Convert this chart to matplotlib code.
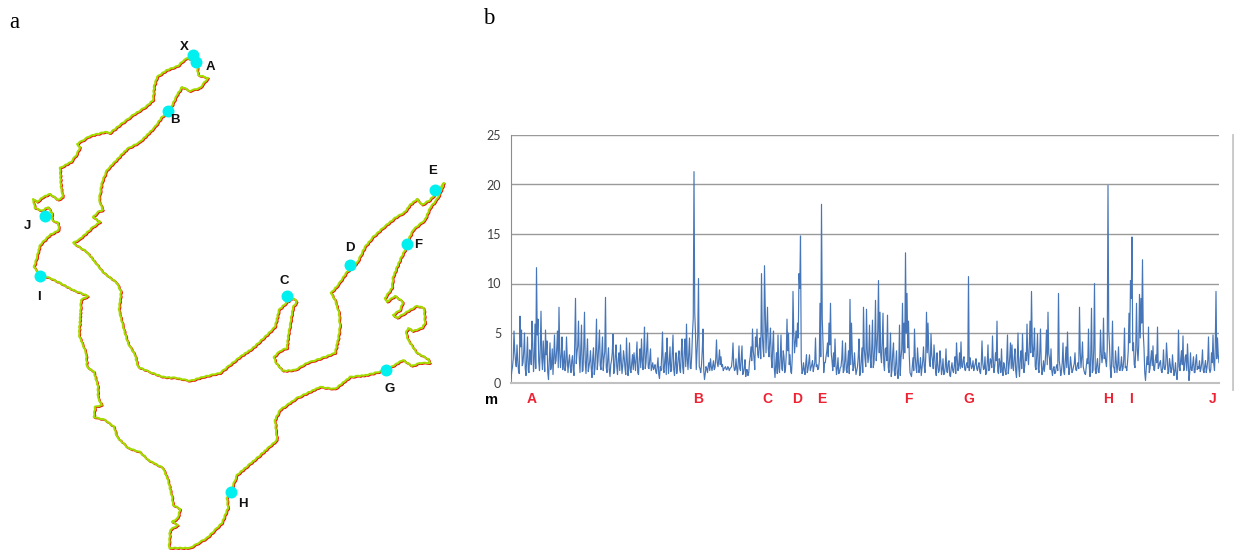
#!/usr/bin/env python3
# -*- coding: utf-8 -*-
"""
Lake shoreline with the waypoints A to J (a) and the height profile
recorded along the shoreline (b).
"""

from numpy import arange, empty
from matplotlib import pyplot as plt
from matplotlib.transforms import ScaledTranslation


# shoreline (image coordinates)
shore_x = [188, 184, 178, 167, 157, 154, 153, 147, 133, 120, 110, 105, 90, 82, 77, 80, 77, 71, 60,
           61, 63, 58, 50, 43, 37, 33, 35, 42, 48, 52, 52, 58, 59, 50, 40, 37, 34, 40,
           50, 60, 73, 88, 81, 80, 79, 83, 86, 87, 94, 98, 98, 102, 95, 94, 105, 114, 117, 128,
           140, 148, 163, 168, 172, 173, 180, 178, 172, 178, 170, 169, 190, 207, 222, 228, 227,
           232, 237, 257, 277, 275, 280, 297, 320, 335, 350, 367,
           386, 403, 412, 420, 430, 428, 417, 408, 406, 408, 413, 422, 425, 424, 417, 410,
           397, 393, 400, 403, 395, 387, 385, 392, 393, 400, 405, 407, 413, 425, 430, 438, 444,
           437, 430, 422, 417, 410, 405, 395, 383, 373, 365, 357, 347, 338, 331, 335, 339, 340,
           338, 335, 322, 307, 295, 283, 276, 274, 280, 287, 288, 291, 293, 297, 293, 287, 279,
           275, 267, 253, 240, 230, 220, 203, 190, 177, 163, 150, 138, 135, 128, 124, 119, 121,
           117, 103, 87, 73, 80, 93, 100, 93, 98, 103, 99, 102, 107, 127, 140, 155, 162, 170, 177,
           182, 190, 200, 208, 198, 197, 188]
shore_y = [58, 60, 66, 70, 77, 87, 100, 106, 115, 125, 133, 132, 136, 141, 144, 147, 154, 162, 168,
           187, 197, 200, 194, 197, 202, 199, 208, 211, 207, 213, 220, 223, 230, 235, 245, 257, 267, 275,
           278, 283, 290, 296, 300, 320, 335, 345, 353, 367, 372, 387, 398, 405, 407, 417, 420, 427, 437, 448,
           452, 460, 468, 480, 497, 505, 509, 518, 522, 525, 530, 548, 548, 538, 523, 508, 498,
           488, 475, 458, 440, 420, 410, 398, 387, 389, 377, 375,
           370, 360, 366, 363, 363, 359, 353, 340, 333, 328, 331, 328, 323, 308, 306, 310,
           318, 315, 310, 302, 296, 302, 298, 288, 277, 260, 250, 243, 230, 220, 208, 198, 183,
           192, 200, 205, 199, 205, 212, 218, 228, 237, 247, 263, 272, 285, 293, 300, 313, 327,
           340, 353, 358, 363, 370, 371, 363, 357, 351, 348, 337, 320, 307, 302, 298, 302, 310,
           327, 335, 348, 357, 365, 373, 377, 381, 378, 377, 372, 367, 355, 343, 330, 310, 292,
           283, 272, 252, 243, 239, 227, 222, 217, 212, 210, 200, 182, 170, 149, 142, 127, 117, 110, 95,
           87, 91, 88, 78, 75, 63, 58]

# waypoints on the shoreline
point_names = ["X", "A", "B", "C", "D", "E", "F", "G", "H", "I", "J"]
point_x = [193, 196, 168, 287, 350, 435, 407, 386, 231, 40, 45]
point_y = [55, 62, 111, 296, 265, 190, 244, 370, 492, 276, 216]
name_x = [184, 210, 175, 284, 350, 433, 418, 390, 243, 39, 27]
name_y = [47, 67, 120, 281, 248, 171, 245, 389, 504, 297, 226]

# height profile along the shoreline, one row per stretch
height = [
    0.4, 1.6, 5.2, 2.2, 3.8, 1.2, 6.7, 5.3, 2.0, 5.0, 0.7, 4.6, 1.0, 2.8, 6.2, 1.1, 5.9, 11.6, 6.4, 1.2,
    7.2, 1.3, 2.5, 5.3, 4.2, 0.3, 4.0, 1.8, 0.8, 4.8, 2.2, 5.2, 7.6, 1.5, 4.6, 2.0, 1.2, 4.6, 1.0, 2.8,
    1.0, 2.7, 0.7, 8.5, 3.0, 6.2, 1.0, 5.8, 1.2, 7.1, 0.9, 4.4, 1.6, 3.2, 0.5, 3.5, 1.5, 6.4, 2.2, 5.3,
    1.3, 4.6, 2.4, 8.6, 1.0, 3.5, 0.6, 2.2, 4.9, 1.2, 3.8, 0.8, 3.0, 3.8, 0.9, 3.2, 1.4, 4.5, 0.7, 4.0,
    1.0, 2.8, 3.0, 1.2, 4.1, 0.8, 3.4, 4.4, 1.3, 5.6, 2.0, 5.0, 1.4, 3.4, 1.6, 1.3, 1.8, 0.9, 2.5, 0.4,
    1.2, 5.1, 1.0, 3.0, 4.5, 0.9, 3.6, 1.2, 4.8, 0.7, 3.0, 1.6, 3.2, 1.0, 4.4, 0.9, 4.4, 5.9, 1.3, 4.5,
    1.4, 5.0, 21.3, 5.0, 3.0, 10.5, 1.4, 1.8, 5.4, 0.3, 1.6, 1.0, 2.0, 2.4, 1.2, 2.2, 1.5, 4.3, 1.6, 3.3,
    2.6, 1.8, 1.4, 1.6, 1.3, 1.5, 1.4, 1.6, 4.0, 1.2, 2.4, 0.8, 3.7, 1.2, 3.7, 1.0, 2.3, 1.3, 0.7, 2.1,
    3.6, 5.4, 2.5, 4.6, 5.4, 2.5, 4.5, 11.0, 3.5, 11.8, 3.0, 7.6, 2.6, 5.5, 1.5, 5.2, 0.5, 3.0, 4.8, 1.0,
    4.8, 1.2, 2.6, 1.4, 6.4, 5.0, 2.8, 0.9, 9.2, 3.0, 5.2, 6.0, 11.0, 14.8, 0.9, 2.0, 0.8, 2.8, 1.3, 2.8,
    1.5, 2.2, 1.6, 4.5, 1.8, 1.4, 8.0, 18.0, 4.0, 2.0, 2.6, 4.0, 6.0, 8.0, 2.2, 3.0, 4.4, 0.8, 2.5, 1.0,
    1.6, 4.2, 1.2, 4.0, 1.0, 3.2, 8.4, 6.0, 1.2, 3.0, 0.8, 1.6, 4.4, 1.0, 3.5, 7.6, 2.4, 7.4, 2.0, 5.8,
    1.5, 6.3, 2.0, 8.3, 3.5, 10.3, 7.1, 2.0, 7.0, 1.2, 3.5, 6.8, 1.0, 5.0, 1.3, 4.0, 0.7, 3.2, 0.4, 5.8,
    2.5, 8.0, 6.0, 13.1, 9.0, 6.2, 1.0, 0.6, 2.5, 5.4, 1.5, 3.5, 1.0, 2.5, 1.4, 3.6, 1.0, 7.1, 6.0, 2.0,
    4.9, 2.2, 3.8, 1.3, 3.0, 1.0, 3.2, 0.8, 2.4, 0.9, 3.4, 1.0, 2.2, 0.6, 2.0, 1.0, 2.6, 4.0, 1.2, 3.0,
    4.1, 1.5, 2.6, 1.2, 2.0, 10.7, 2.5, 1.4, 2.2, 1.6, 2.4, 1.2, 2.0, 0.9, 4.2, 1.3, 2.6, 1.0, 3.8, 1.3,
    2.2, 4.7, 1.0, 3.0, 6.2, 0.9, 2.0, 3.4, 0.7, 1.6, 0.8, 4.8, 1.6, 4.0, 3.8, 1.2, 3.4, 0.5, 5.0, 0.6,
    3.2, 4.9, 1.0, 3.0, 5.9, 1.8, 6.2, 9.2, 2.6, 5.5, 1.3, 4.9, 1.0, 5.4, 0.8, 2.2, 1.8, 5.3, 7.1, 2.4,
    3.4, 0.7, 1.6, 1.0, 1.8, 9.0, 1.6, 1.2, 4.0, 0.8, 3.6, 5.1, 0.8, 2.6, 1.0, 1.6, 3.0, 1.2, 2.0, 7.6,
    1.5, 4.1, 1.2, 0.8, 2.4, 5.4, 0.6, 7.5, 1.2, 10.0, 0.9, 2.4, 1.0, 5.3, 2.0, 6.5, 3.0, 1.6, 19.9, 3.8,
    0.5, 6.2, 1.5, 3.2, 1.0, 3.6, 1.2, 2.6, 1.4, 5.5, 1.6, 2.0, 7.0, 10.3, 14.7, 4.0, 1.5, 8.0, 2.2, 8.9,
    8.5, 12.4, 3.5, 0.2, 2.6, 5.6, 1.4, 3.2, 3.7, 1.2, 2.8, 5.6, 1.6, 2.2, 1.0, 3.3, 1.3, 4.0, 0.9, 2.4,
    1.0, 2.8, 0.7, 2.0, 0.3, 5.3, 1.2, 3.2, 4.7, 1.4, 2.8, 3.9, 0.2, 3.0, 1.2, 2.6, 1.0, 2.8, 1.6, 2.2,
    1.4, 3.3, 1.0, 2.2, 1.5, 4.6, 1.0, 3.0, 4.8, 1.2, 9.2, 4.5, 2.0,
]

# readings that fall between two of the above
height_mid = [
    1.1, 2.4, 3.1, 1.6, 2.2, 0.9, 3.6, 1.7, 3.2, 1.4, 2.6, 1.2, 3.3, 1.8, 3.9, 2.3, 1.4, 4.8, 2.1, 3.4,
    2.5, 4.2, 1.1, 2.8, 1.0, 2.2, 1.3, 3.4, 2.6, 1.9, 3.5, 1.5, 3.0, 2.8, 1.3, 3.2, 1.7, 2.4, 2.1, 1.6,
    2.2, 1.3, 4.1, 1.9, 3.7, 2.5, 3.4, 1.1, 3.6, 2.0, 2.8, 1.1, 2.2, 1.4, 2.5, 0.8, 3.3, 1.3, 3.8, 1.7,
    2.9, 1.2, 3.1, 1.5, 2.4, 1.3, 1.8, 3.0, 0.9, 2.7, 1.6, 2.4, 1.2, 2.2, 1.7, 2.5, 0.8, 2.3, 1.6, 1.2,
    2.0, 1.3, 2.1, 2.6, 1.0, 2.4, 1.5, 2.2, 3.2, 1.4, 3.6, 1.5, 2.4, 1.2, 2.0, 1.5, 1.1, 1.7, 0.8, 1.6,
    2.8, 1.4, 2.2, 0.8, 2.4, 2.0, 1.1, 3.1, 1.3, 2.0, 0.9, 2.5, 1.3, 3.0, 1.5, 3.2, 1.6, 2.4, 3.0, 1.5,
    2.8, 6.5, 7.0, 1.3, 4.8, 1.6, 1.0, 3.2, 1.2, 0.9, 1.4, 1.7, 1.2, 1.6, 1.7, 1.3, 2.4, 2.0, 2.3, 1.8,
    1.6, 1.2, 1.5, 1.3, 1.6, 1.2, 1.5, 2.4, 1.7, 1.3, 1.4, 2.0, 1.4, 2.4, 0.8, 1.5, 0.6, 1.3, 1.0, 2.6,
    2.2, 3.2, 1.3, 3.6, 2.8, 3.7, 2.4, 5.0, 2.6, 7.5, 5.4, 3.4, 4.2, 2.5, 3.8, 1.5, 1.9, 0.9, 1.5, 2.6,
    1.4, 3.2, 1.0, 2.8, 3.2, 1.8, 1.1, 2.5, 5.0, 4.0, 3.6, 4.5, 9.5, 2.3, 1.1, 1.3, 1.9, 1.0, 2.0, 1.2,
    1.8, 1.1, 2.0, 1.6, 1.3, 2.1, 2.6, 6.5, 1.0, 2.0, 3.1, 2.6, 3.8, 3.0, 1.2, 1.6, 2.0, 1.4, 0.9, 1.5,
    2.4, 1.0, 2.2, 1.3, 2.1, 0.9, 1.8, 3.0, 1.5, 1.7, 1.2, 2.6, 0.7, 2.2, 1.0, 3.4, 1.6, 3.3, 2.8, 2.4,
    3.5, 1.5, 3.8, 2.2, 5.2, 3.0, 2.8, 4.0, 1.9, 3.4, 2.2, 1.5, 2.6, 0.6, 3.0, 1.2, 2.0, 0.9, 1.6, 0.7,
    3.4, 2.4, 3.0, 5.0, 3.5, 2.8, 0.8, 1.6, 1.2, 2.6, 1.0, 2.2, 1.5, 0.7, 2.2, 1.6, 2.6, 3.0, 3.4, 1.6,
    2.8, 1.4, 2.6, 0.7, 1.8, 1.2, 2.2, 1.3, 0.8, 1.6, 1.1, 2.0, 0.7, 1.5, 1.2, 1.7, 0.9, 2.4, 1.7, 1.4,
    1.6, 2.3, 1.3, 1.8, 1.5, 1.2, 1.9, 1.6, 1.2, 1.9, 1.4, 1.7, 1.1, 1.8, 2.0, 1.4, 0.8, 2.0, 1.2, 2.4,
    1.5, 2.3, 1.7, 2.2, 1.1, 2.4, 1.0, 1.3, 2.0, 1.1, 2.4, 0.9, 2.6, 1.4, 1.6, 2.6, 1.1, 2.3, 1.5, 2.4,
    1.4, 2.4, 1.7, 2.2, 2.8, 3.5, 3.0, 4.0, 3.4, 1.6, 2.8, 1.4, 3.0, 2.0, 1.3, 1.1, 3.0, 1.8, 2.9, 1.3,
    1.2, 1.4, 0.9, 1.6, 1.2, 2.2, 0.7, 2.0, 1.1, 2.2, 1.5, 1.9, 1.4, 1.8, 1.2, 1.9, 1.3, 1.7, 1.4, 3.0,
    2.6, 1.6, 0.9, 1.6, 1.9, 1.7, 2.8, 1.0, 3.4, 1.3, 1.8, 1.1, 2.0, 3.0, 2.8, 2.4, 2.1, 3.5, 5.2, 1.5,
    2.4, 1.6, 1.0, 2.1, 1.8, 1.3, 1.7, 1.2, 2.3, 1.5, 1.2, 3.2, 4.0, 8.5, 3.2, 1.8, 3.3, 3.4, 3.8, 4.5,
    6.0, 5.0, 1.0, 1.4, 1.8, 1.0, 2.4, 1.7, 1.3, 2.2, 2.0, 1.4, 2.0, 1.2, 1.6, 1.4, 1.8, 2.6, 1.1, 1.8,
    1.3, 1.6, 1.1, 0.9, 1.4, 1.6, 2.4, 1.8, 1.2, 2.6, 1.2, 2.0, 1.0, 1.3, 1.9, 1.0, 2.2, 1.3, 1.4, 1.1,
    2.0, 1.2, 1.7, 1.0, 2.2, 1.4, 1.3, 2.0, 1.9, 3.5, 2.4, 2.8,
]

# stations marked under the profile
station_names = ["A", "B", "C", "D", "E", "F", "G", "H", "I", "J"]
station_pos = [14, 125, 171, 191, 207, 265, 305, 398, 413, 468]
y_ticks = [0, 5, 10, 15, 20, 25]


W, H = 1234, 554
plt.rcParams["font.family"] = ["Lato", "DejaVu Sans"]
fig = plt.figure(figsize=(W / 100, H / 100), dpi=100)

""" a: shoreline map """
ax_map = fig.add_axes([0, 0, 1, 1])
ax_map.set_xlim(0, W)
ax_map.set_ylim(H, 0)
ax_map.axis("off")
# the red trace sits a little to the lower right of the green one
shift = ax_map.transData + ScaledTranslation(0.8 / 100, -0.7 / 100, fig.dpi_scale_trans)
red, = ax_map.plot(shore_x, shore_y, color="#f00000", linewidth=1.4, transform=shift)
green, = ax_map.plot(shore_x, shore_y, color="#a2dc00", linewidth=1.5)
red.set_sketch_params(0.35, 6, 2)
green.set_sketch_params(0.35, 6, 2)
ax_map.plot(point_x, point_y, linestyle="", marker="o", markersize=8.6,
    color="#00f0f0", markeredgewidth=0)
for name, x, y in zip(point_names, name_x, name_y):
    ax_map.text(x, y, name, family="Liberation Sans", fontsize=9.5, fontweight="bold",
        color="#111111", ha="center", va="center")

fig.text(14 / W, 1 - 23 / H, "a", family="Liberation Serif", fontsize=16.5,
    ha="center", va="center")
fig.text(489 / W, 1 - 19 / H, "b", family="Liberation Serif", fontsize=16.5,
    ha="center", va="center")

""" b: height profile """
left, right, top, bottom = 511, 1219, 135, 382.5
ax = fig.add_axes([left / W, 1 - bottom / H, (right - left) / W, (bottom - top) / H])
ax.patch.set_alpha(0)
profile = empty(2 * len(height) - 1)
profile[::2] = height
profile[1::2] = height_mid
ax.plot(arange(len(profile)) / 2, profile, color="#4676b8", linewidth=0.85, zorder=3)
ax.set_xlim(0, 472)
ax.set_ylim(0, 25)
ax.set_yticks(y_ticks)
ax.set_xticks([])
ax.tick_params(axis="y", length=0, pad=7, labelsize=9, labelcolor="#404040")
ax.grid(axis="y", color="#9a9a9a", linewidth=1.0)
for side in ("top", "right"):
    ax.spines[side].set_visible(False)
ax.spines["left"].set_color("#8c8c8c")
ax.spines["bottom"].set_color("#c0c0c0")
ax.spines["bottom"].set_linewidth(1.5)
for name, pos in zip(station_names, station_pos):
    ax.text(pos, -1.7, name, family="Liberation Sans", color="#ee2233", fontsize=10,
        fontweight="bold", ha="center", va="center")

fig.text(491 / W, 1 - 400 / H, "m", family="Liberation Sans", fontsize=10.5,
    fontweight="bold", color="black", ha="center", va="center")
# the frame edge of the pasted chart
fig.add_artist(plt.Line2D([1233 / W, 1233 / W], [1 - 135 / H, 1 - 389 / H],
    color="#c8c8c8", linewidth=2))

fig.savefig("out.png", dpi=100)
